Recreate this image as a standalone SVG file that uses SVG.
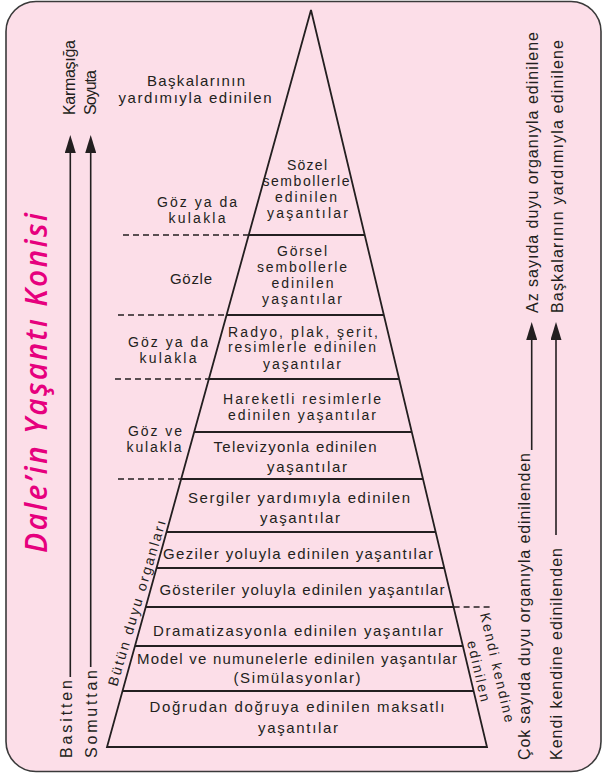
<svg xmlns="http://www.w3.org/2000/svg" width="603" height="775" viewBox="0 0 603 775">
<defs>
<style>
.t{font-family:"Liberation Sans",Arial,sans-serif;font-size:14px;fill:#231f20;text-anchor:middle}
.t15{font-size:15px}
.s{font-family:"Liberation Sans",Arial,sans-serif;font-size:14px;fill:#231f20;text-anchor:start}
.ax{font-size:16px}
.ln{stroke:#231f20;stroke-width:1.8;fill:none}
.dash{stroke:#231f20;stroke-width:1.5;stroke-dasharray:6 4;fill:none}
.ar{stroke:#231f20;stroke-width:1.6;fill:none}
</style>
<marker id="ah" markerUnits="userSpaceOnUse" markerWidth="18" markerHeight="11" viewBox="0 0 18 11" refX="8" refY="5.5" orient="auto">
<path d="M0,0 L18,5.5 L0,11 z" fill="#231f20"/>
</marker>
</defs>
<g id="frame">
<rect x="6" y="1.5" width="595" height="770" rx="30" ry="30" fill="#fcdee8" stroke="#3a3a3a" stroke-width="1.6"/>
</g>
<g id="title">
<text transform="translate(47,553) rotate(-90)" font-family="Open Sans, DejaVu Sans, sans-serif" font-size="30" font-style="italic" font-weight="600" fill="#e6007e" textLength="340">Dale’in Yaşantı Konisi</text>
</g>
<g id="cone">
<polygon class="ln" points="311,10 107,747 487,747"/>
<line class="ln" x1="248.7" y1="235" x2="364.7" y2="235"/>
<line class="ln" x1="226.6" y1="315" x2="383.8" y2="315"/>
<line class="ln" x1="208.9" y1="379" x2="399.1" y2="379"/>
<line class="ln" x1="194.2" y1="432" x2="411.8" y2="432"/>
<line class="ln" x1="181.2" y1="479" x2="423.0" y2="479"/>
<line class="ln" x1="166.5" y1="532" x2="435.7" y2="532"/>
<line class="ln" x1="156.5" y1="568" x2="444.3" y2="568"/>
<line class="ln" x1="145.8" y1="607" x2="453.6" y2="607"/>
<line class="ln" x1="135.0" y1="646" x2="462.9" y2="646"/>
<line class="ln" x1="122.5" y1="691" x2="473.6" y2="691"/>
</g>
<g id="level-sozel">
<text class="t" x="307" y="170" textLength="40">Sözel</text>
<text class="t" x="306" y="186" textLength="87">sembollerle</text>
<text class="t" x="306" y="202" textLength="62">edinilen</text>
<text class="t" x="307.5" y="218" textLength="81">yaşantılar</text>
</g>
<g id="level-gorsel">
<text class="t" x="302" y="256" textLength="50">Görsel</text>
<text class="t" x="302" y="272" textLength="90">sembollerle</text>
<text class="t" x="302.5" y="288" textLength="62">edinilen</text>
<text class="t" x="302" y="304" textLength="80">yaşantılar</text>
</g>
<g id="level-radyo">
<text class="t" x="303" y="336.5" textLength="150">Radyo, plak, şerit,</text>
<text class="t" x="302" y="352.3" textLength="148">resimlerle edinilen</text>
<text class="t" x="302" y="369" textLength="78">yaşantılar</text>
</g>
<g id="level-hareketli">
<text class="t" x="302" y="404" textLength="158">Hareketli resimlerle</text>
<text class="t" x="302" y="419.8" textLength="148">edinilen yaşantılar</text>
</g>
<g id="level-televizyon">
<text class="t t15" x="295" y="452" textLength="163">Televizyonla edinilen</text>
<text class="t t15" x="307" y="472" textLength="80">yaşantılar</text>
</g>
<g id="level-sergiler">
<text class="t t15" x="299" y="502.5" textLength="222">Sergiler yardımıyla edinilen</text>
<text class="t t15" x="300" y="522.5" textLength="80">yaşantılar</text>
</g>
<g id="level-geziler">
<text class="t t15" x="298" y="559" textLength="270">Geziler yoluyla edinilen yaşantılar</text>
</g>
<g id="level-gosteriler">
<text class="t t15" x="302" y="595" textLength="285">Gösteriler yoluyla edinilen yaşantılar</text>
</g>
<g id="level-dramatizasyon">
<text class="t t15" x="298" y="636" textLength="290">Dramatizasyonla edinilen yaşantılar</text>
</g>
<g id="level-model">
<text class="t t15" x="297" y="664" textLength="320">Model ve numunelerle edinilen yaşantılar</text>
<text class="t t15" x="297" y="682.5" textLength="127">(Simülasyonlar)</text>
</g>
<g id="level-dogrudan">
<text class="t t15" x="297" y="712" textLength="295">Doğrudan doğruya edinilen maksatlı</text>
<text class="t t15" x="298" y="733" textLength="80">yaşantılar</text>
</g>
<g id="sense-labels">
<text class="t t15" x="196" y="86" textLength="98">Başkalarının</text>
<text class="t t15" x="195" y="103" textLength="153">yardımıyla edinilen</text>
<text class="t" x="197" y="206.5" textLength="80">Göz ya da</text>
<text class="t" x="197" y="223" textLength="57">kulakla</text>
<text class="t t15" x="191" y="284" textLength="42">Gözle</text>
<text class="t" x="168" y="347" textLength="80">Göz ya da</text>
<text class="t" x="168" y="363" textLength="57">kulakla</text>
<text class="t" x="155" y="436" textLength="54">Göz ve</text>
<text class="t" x="154" y="452" textLength="55">kulakla</text>
<text class="s t15" transform="translate(117,687) rotate(-73.5)" textLength="172">Bütün duyu organları</text>
<text class="s" transform="translate(480,614) rotate(77)" textLength="112">Kendi kendine</text>
<text class="s" transform="translate(467,642) rotate(77)" textLength="62">edinilen</text>
</g>
<g id="axis-labels">
<text class="s ax" transform="translate(75,115) rotate(-90)" textLength="75">Karmaşığa</text>
<text class="s ax" transform="translate(96,115) rotate(-90)" textLength="45">Soyuta</text>
<text class="s ax" transform="translate(72,758) rotate(-90)" textLength="78">Basitten</text>
<text class="s ax" transform="translate(97,758) rotate(-90)" textLength="88">Somuttan</text>
<text class="s ax" transform="translate(538,313) rotate(-90)" textLength="281">Az sayıda duyu organıyla edinilene</text>
<text class="s ax" transform="translate(563,313) rotate(-90)" textLength="273">Başkalarının yardımıyla edinilene</text>
<text class="s ax" transform="translate(530,760) rotate(-90)" textLength="307">Çok sayıda duyu organıyla edinilenden</text>
<text class="s ax" transform="translate(562,760) rotate(-90)" textLength="212">Kendi kendine edinilenden</text>
</g>
<g id="connectors">
<line class="ar" x1="70.3" y1="677" x2="70.3" y2="145" marker-end="url(#ah)"/>
<line class="ar" x1="90.7" y1="667" x2="90.7" y2="145" marker-end="url(#ah)"/>
<line class="ar" x1="531.7" y1="450" x2="531.7" y2="332" marker-end="url(#ah)"/>
<line class="ar" x1="556" y1="535" x2="556" y2="332" marker-end="url(#ah)"/>
<line class="dash" x1="123" y1="235" x2="248.7" y2="235"/>
<line class="dash" x1="118" y1="315" x2="226.6" y2="315"/>
<line class="dash" x1="115" y1="379" x2="208.9" y2="379"/>
<line class="dash" x1="118" y1="479" x2="181.2" y2="479"/>
<line class="dash" x1="453.6" y1="607" x2="492" y2="607"/>
</g>
</svg>
